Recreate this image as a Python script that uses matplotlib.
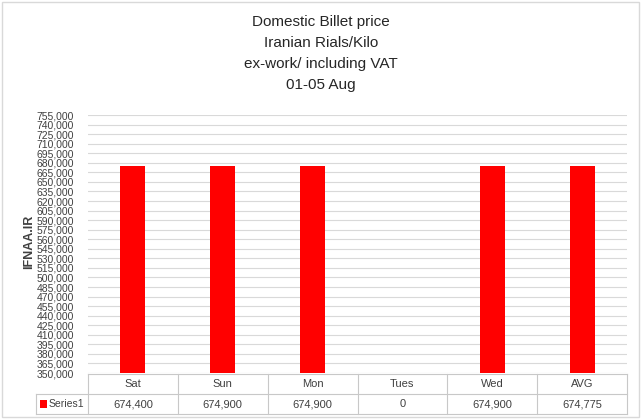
import matplotlib.pyplot as plt
from matplotlib.patches import Rectangle
from matplotlib.lines import Line2D

# data
days = ['Sat', 'Sun', 'Mon', 'Tues', 'Wed', 'AVG']
prices = [674400, 674900, 674900, 0, 674900, 674775]
series_name = 'Series1'
title_lines = ['Domestic Billet price', 'Iranian Rials/Kilo',
               'ex-work/ including VAT', '01-05 Aug']

W, H = 642, 419
plt.rcParams['font.family'] = ['Liberation Sans', 'DejaVu Sans']
fig = plt.figure(figsize=(W / 100, H / 100), dpi=100)

def fx(px):
    return px / W

def fy(py):
    return 1 - py / H

# outer frame
fig.add_artist(Rectangle((fx(2), fy(417)), fx(637), 415 / H, transform=fig.transFigure,
                         fill=False, edgecolor='#d9d9d9', linewidth=1.0))

# title
for i, line in enumerate(title_lines):
    fig.text(0.5, fy(22 + i * 21), line, ha='center', va='center',
             fontsize=11, color='#262626')

left, right, top, bottom = 88, 627, 115, 373
ax = fig.add_axes([fx(left), fy(bottom), fx(right - left), (bottom - top) / H])
x = list(range(len(days)))
ax.bar(x, prices, width=0.28, color='#ff0000', zorder=3)
ax.set_xlim(-0.5, len(days) - 0.5)
ax.set_ylim(350000, 755000)
ax.set_yticks(range(350000, 755001, 15000))
ax.set_yticklabels([f'{v:,}' for v in range(350000, 755001, 15000)],
                   fontsize=7.5, color='#404040')
ax.tick_params(axis='y', length=0, pad=10)
ax.set_xticks([])
ax.grid(axis='y', color='#d9d9d9', linewidth=0.8, zorder=0)
for s in ax.spines.values():
    s.set_visible(False)

# axis title
fig.text(fx(29), fy(242), 'IFNAA.IR', rotation=90, ha='center', va='center',
         fontsize=9, fontweight='bold', color='#404040')

# data table below the plot, aligned with categories
tc = '#c8c8c8'
row1_top, row1_bot, row2_bot = 374, 394, 414
def cat_px(v):
    return left + (v + 0.5) / len(days) * (right - left)

edges = [cat_px(i - 0.5) for i in range(len(days) + 1)]
for e in edges:
    fig.add_artist(Line2D([fx(e), fx(e)], [fy(row1_top), fy(row2_bot)],
                          transform=fig.transFigure, color=tc, linewidth=0.8))
fig.add_artist(Line2D([fx(36), fx(36)], [fy(row1_bot), fy(row2_bot)],
                      transform=fig.transFigure, color=tc, linewidth=0.8))
fig.add_artist(Line2D([fx(left), fx(right)], [fy(row1_top), fy(row1_top)],
                      transform=fig.transFigure, color=tc, linewidth=0.8))
for yy in (row1_bot, row2_bot):
    fig.add_artist(Line2D([fx(36), fx(right)], [fy(yy), fy(yy)],
                          transform=fig.transFigure, color=tc, linewidth=0.8))

for i, (d, p) in enumerate(zip(days, prices)):
    cx = cat_px(i)
    fig.text(fx(cx), fy((row1_top + row1_bot) / 2), d, ha='center', va='center',
             fontsize=8, color='#404040')
    fig.text(fx(cx), fy((row1_bot + row2_bot) / 2), f'{p:,}', ha='center', va='center',
             fontsize=8, color='#404040')

fig.add_artist(Rectangle((fx(40), fy(408)), fx(7), 8 / H, transform=fig.transFigure,
                         facecolor='#ff0000', edgecolor='none'))
fig.text(fx(49), fy((row1_bot + row2_bot) / 2), series_name, ha='left', va='center',
         fontsize=7.5, color='#404040')

fig.savefig('out.png', dpi=100)
